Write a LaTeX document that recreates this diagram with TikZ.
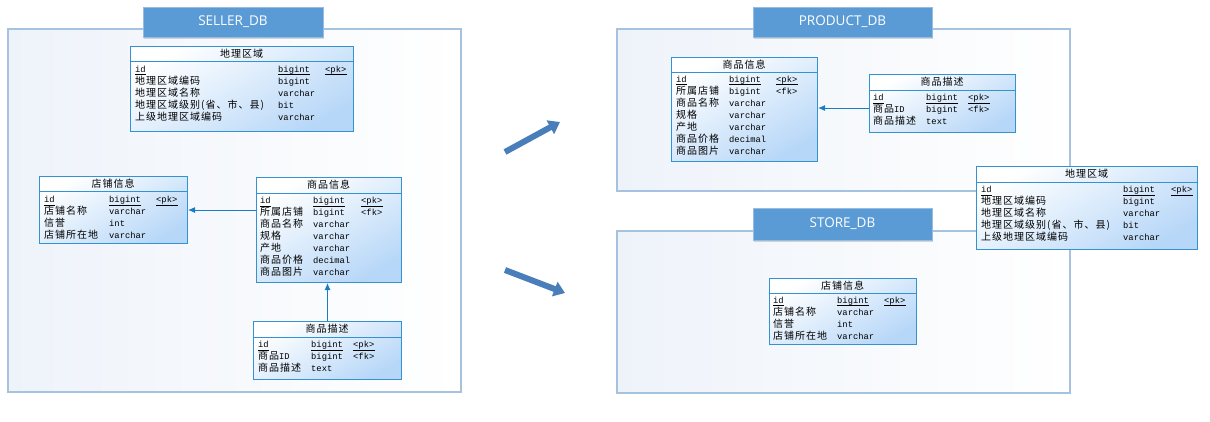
\documentclass[tikz,border=0pt]{standalone}
\usepackage{fontspec}
\newfontfamily\cjk[LetterSpace=10]{Noto Sans CJK SC}
\newfontfamily\mono{Liberation Mono}
\newfontfamily\titlefont{Open Sans}
\usetikzlibrary{arrows.meta, shadows}

\definecolor{contline}{RGB}{165,195,225}
\definecolor{contfill}{RGB}{238,243,250}
\definecolor{titlefill}{RGB}{91,155,213}
\definecolor{titleline}{RGB}{150,188,226}
\definecolor{tblline}{RGB}{52,146,208}
\definecolor{tblfill}{RGB}{183,215,248}
\definecolor{fkcolor}{RGB}{26,125,196}
\definecolor{arrowfill}{RGB}{74,126,187}

\newcommand{\namefont}{\cjk\fontsize{10}{12}\selectfont}
\newcommand{\typefont}{\mono\fontsize{8.8}{11}\selectfont}

\tikzset{
  dbframe/.style={draw=contline, line width=1.2pt, left color=contfill, right color=white},
  dbtitle/.style={draw=titleline, line width=0.8pt, fill=titlefill, text=white,
    font=\titlefont\fontsize{13.5}{16}\selectfont,
    drop shadow={opacity=0.3, shadow xshift=1pt, shadow yshift=-1.5pt}},
  tablebox/.style={draw=tblline, line width=1pt, top color=white, bottom color=tblfill,
    shading angle=30, inner sep=0pt},
  tableline/.style={draw=tblline, line width=1pt},
  tabletitle/.style={inner sep=0pt, font=\namefont},
  rowtext/.style={anchor=base west, inner sep=0pt},
  pkline/.style={line width=0.6pt},
  fkline/.style={draw=fkcolor, line width=1pt, -{Latex[length=7pt,width=6pt]}},
  bigarrow/.style={draw=arrowfill, line width=6pt, -{Triangle[length=11pt,width=15pt]}},
}

% table box: name, x1, y1, x2, y2, header line, title
\newcommand{\ertable}[7]{%
  \node[tablebox, anchor=north west, minimum width={#4-#2}, minimum height={#5-#3}] (#1) at (#2,#3) {};
  \draw[tableline] (#2,#6) -- (#4,#6);
  \node[tabletitle] (#1-title) at ({(#2+#4)/2},{(#3+#6)/2}) {#7};
}

% table rows: name, x name, x type, x key, first baseline, rows
\newcommand{\errows}[6]{%
  \foreach \n/\t/\k [count=\i from 0] in {#6} {
    \pgfmathsetmacro{\yy}{#5+12*\i}
    \ifnum\i=0
      \node[rowtext] (#1-n\i) at (#2,\yy) {\typefont\n};
      \node[rowtext] (#1-t\i) at (#3,\yy) {\typefont\t};
      \node[rowtext] (#1-k\i) at (#4,\yy) {\typefont\k};
      \foreach \c in {n,t,k}
        \draw[pkline] ([yshift=-2.4pt]#1-\c\i.base west) -- ([yshift=-2.4pt]#1-\c\i.base east);
    \else
      \node[rowtext] (#1-n\i) at (#2,\yy) {\namefont\n};
      \node[rowtext] (#1-t\i) at (#3,\yy) {\typefont\t};
      \ifx\k\empty\else
        \node[rowtext] (#1-k\i) at (#4,\yy) {\typefont\k};
      \fi
    \fi
  }
}

\begin{document}
\begin{tikzpicture}[x=1pt, y=-1pt]

\fill[white] (0,0) rectangle (1210,421);
\useasboundingbox (0,0) rectangle (1210,421);

% the three databases
\draw[dbframe] (8,29) rectangle (461,392);
\node[dbtitle, minimum width=180, minimum height=30] (sellerTitle) at (233,22) {SELLER\_DB};

\draw[dbframe] (617,29) rectangle (1070,191);
\node[dbtitle, minimum width=179, minimum height=30] (productTitle) at (842.5,22) {PRODUCT\_DB};

\draw[dbframe] (617,231) rectangle (1070,393);
\node[dbtitle, minimum width=179, minimum height=32] (storeTitle) at (842.5,224) {STORE\_DB};

% SELLER_DB tables
\ertable{sellerArea}{130}{46}{353}{131}{61}{地理区域}
\errows{sellerArea}{135}{278}{325}{72}{id/bigint/<pk>, 地理区域编码/bigint/{}, 地理区域名称/varchar/{},
  {地理区域级别(省、市、县)}/bit/{}, 上级地理区域编码/varchar/{}}

\ertable{sellerShop}{39}{176}{187}{243}{191}{店铺信息}
\errows{sellerShop}{44}{109}{156}{202.5}{id/bigint/<pk>, 店铺名称/varchar/{}, 信誉/int/{}, 店铺所在地/varchar/{}}

\ertable{sellerGoods}{256}{177}{401}{282}{193}{商品信息}
\errows{sellerGoods}{260}{313}{361}{203.8}{id/bigint/<pk>, 所属店铺/bigint/<fk>, 商品名称/varchar/{},
  规格/varchar/{}, 产地/varchar/{}, 商品价格/decimal/{}, 商品图片/varchar/{}}

\ertable{sellerDesc}{253}{321}{401}{379}{337}{商品描述}
\errows{sellerDesc}{258}{311}{353}{347.5}{id/bigint/<pk>, 商品{\typefont ID}/bigint/<fk>, 商品描述/text/{}}

\coordinate (shopLink) at (0,210);
\draw[fkline] (sellerGoods.west |- shopLink) -- (sellerShop.east |- shopLink);
\draw[fkline] (sellerDesc.north) -- (sellerDesc.north |- sellerGoods.south);

% PRODUCT_DB tables
\ertable{productGoods}{671}{57}{817}{161}{72}{商品信息}
\errows{productGoods}{676}{729}{776}{82.2}{id/bigint/<pk>, 所属店铺/bigint/<fk>, 商品名称/varchar/{},
  规格/varchar/{}, 产地/varchar/{}, 商品价格/decimal/{}, 商品图片/varchar/{}}

\ertable{productDesc}{869}{74}{1015}{132}{90}{商品描述}
\errows{productDesc}{873}{926}{968}{100.5}{id/bigint/<pk>, 商品{\typefont ID}/bigint/<fk>, 商品描述/text/{}}

\coordinate (goodsLink) at (0,108);
\draw[fkline] (productDesc.west |- goodsLink) -- (productGoods.east |- goodsLink);

% STORE_DB tables
\ertable{storeShop}{769}{278}{916}{344}{293}{店铺信息}
\errows{storeShop}{773}{837}{884}{303.2}{id/bigint/<pk>, 店铺名称/varchar/{}, 信誉/int/{}, 店铺所在地/varchar/{}}

% shared table on top of both frames
\ertable{sharedArea}{976}{166}{1197}{249}{182}{地理区域}
\errows{sharedArea}{981}{1123}{1171}{192.5}{id/bigint/<pk>, 地理区域编码/bigint/{}, 地理区域名称/varchar/{},
  {地理区域级别(省、市、县)}/bit/{}, 上级地理区域编码/varchar/{}}

% split arrows
\coordinate (upFrom) at (505,152);
\coordinate (upTo) at (560,122);
\coordinate (downFrom) at (505,270);
\coordinate (downTo) at (565,293);
\draw[bigarrow] (upFrom) -- (upTo);
\draw[bigarrow] (downFrom) -- (downTo);

\end{tikzpicture}
\end{document}
